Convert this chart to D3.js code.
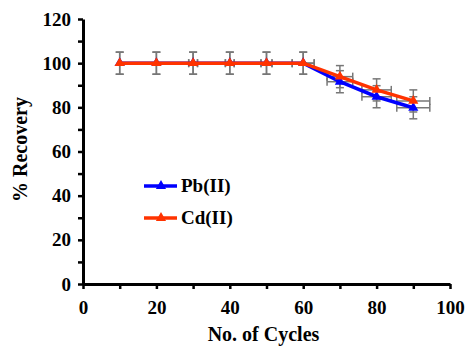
<!DOCTYPE html>
<html>
<head>
<meta charset="utf-8">
<script src="https://cdn.jsdelivr.net/npm/d3@7"></script>
<style>
  body { margin: 0; background: #fff; }
</style>
</head>
<body>
<svg id="chart" width="465" height="346"></svg>
<script>
// chart data
const cycles = [10, 20, 30, 40, 50, 60, 70, 80, 90];
const pbValues = [100, 100, 100, 100, 100, 100, 91.6, 84.8, 79.8];
const cdValues = [100, 100, 100, 100, 100, 100, 93.9, 87.9, 82.9];
const yErr = [5, 5, 5, 5, 5, 5, 5, 5, 5];
const xErr = [0, 0, 1.2, 1.2, 1.5, 3, 3.5, 4, 4.5];
const xTicks = [0, 20, 40, 60, 80, 100];
const yTicks = [0, 20, 40, 60, 80, 100, 120];

const FONT = "'Liberation Serif', 'Times New Roman', 'DejaVu Serif', serif";

const margin = { top: 19, right: 15, bottom: 62, left: 83 };
const width = 465 - margin.left - margin.right;
const height = 346 - margin.top - margin.bottom;

const svg = d3.select("#chart")
    .append("g")
    .attr("transform", "translate(" + margin.left + "," + margin.top + ")");

const xScale = d3.scaleLinear().domain([0, 100]).range([0, width]);
const yScale = d3.scaleLinear().domain([0, 120]).range([height, 0]);

// axes: major labels every 20, tick marks every 10
const xAxis = svg.append("g")
    .attr("transform", "translate(0," + height + ")")
    .call(d3.axisBottom(xScale).tickValues(d3.range(0, 101, 10)).tickSize(5).tickSizeOuter(0)
        .tickFormat(d => xTicks.includes(d) ? d : ""));
const yAxis = svg.append("g")
    .call(d3.axisLeft(yScale).tickValues(d3.range(0, 121, 10)).tickSize(5).tickSizeOuter(0)
        .tickFormat(d => yTicks.includes(d) ? d : ""));

[xAxis, yAxis].forEach(a => {
    a.attr("font-family", FONT).attr("font-size", 19).attr("font-weight", "bold");
    a.select(".domain").attr("stroke", "#000").attr("stroke-width", 3);
    a.selectAll(".tick line").attr("stroke", "#000").attr("stroke-width", 2.5);
    a.selectAll(".tick text").attr("fill", "#000");
});
xAxis.selectAll(".tick text").attr("dy", "1.15em");
yAxis.selectAll(".tick text").attr("x", -12);

// error bars (drawn under the lines)
const errColor = "#777";
const series = [
    { name: "Pb(II)", values: pbValues, color: "#0000ff" },
    { name: "Cd(II)", values: cdValues, color: "#ff3300" }
];
const capY = 4, capX = 4;
series.forEach(s => {
    const g = svg.append("g");
    cycles.forEach((c, i) => {
        const cx = xScale(c), cy = yScale(s.values[i]);
        const y0 = yScale(s.values[i] - yErr[i]), y1 = yScale(s.values[i] + yErr[i]);
        g.append("line").attr("x1", cx).attr("x2", cx).attr("y1", y0).attr("y2", y1);
        g.append("line").attr("x1", cx - capY).attr("x2", cx + capY).attr("y1", y0).attr("y2", y0);
        g.append("line").attr("x1", cx - capY).attr("x2", cx + capY).attr("y1", y1).attr("y2", y1);
        if (xErr[i] > 0) {
            const x0 = xScale(c - xErr[i]), x1 = xScale(c + xErr[i]);
            g.append("line").attr("x1", x0).attr("x2", x1).attr("y1", cy).attr("y2", cy);
            g.append("line").attr("x1", x0).attr("x2", x0).attr("y1", cy - capX).attr("y2", cy + capX);
            g.append("line").attr("x1", x1).attr("x2", x1).attr("y1", cy - capX).attr("y2", cy + capX);
        }
    });
    g.selectAll("line").attr("stroke", errColor).attr("stroke-width", 1.5);
});

// lines + triangle markers
const line = d3.line().x((d, i) => xScale(cycles[i])).y(d => yScale(d));
const tri = d3.symbol().type(d3.symbolTriangle).size(45);
series.forEach(s => {
    svg.append("path").datum(s.values)
        .attr("d", line)
        .attr("fill", "none")
        .attr("stroke", s.color)
        .attr("stroke-width", 3.5);
    svg.selectAll(null).data(s.values).enter().append("path")
        .attr("d", tri)
        .attr("transform", (d, i) => "translate(" + xScale(cycles[i]) + "," + yScale(d) + ")")
        .attr("fill", s.color);
});

// legend
const legend = svg.append("g").attr("transform", "translate(61,167)");
series.forEach((s, i) => {
    const row = legend.append("g").attr("transform", "translate(0," + i * 32 + ")");
    row.append("line").attr("x1", 0).attr("x2", 33).attr("y1", 0).attr("y2", 0)
        .attr("stroke", s.color).attr("stroke-width", 3.5);
    row.append("path").attr("d", tri).attr("transform", "translate(17,0)").attr("fill", s.color);
    row.append("text").attr("x", 37).attr("y", 6)
        .attr("font-family", FONT).attr("font-weight", "bold").attr("font-size", 19)
        .text(s.name);
});

// axis titles
svg.append("text")
    .attr("x", width / 2 - 3)
    .attr("y", height + 57)
    .attr("text-anchor", "middle")
    .attr("font-family", FONT).attr("font-weight", "bold").attr("font-size", 20)
    .text("No. of Cycles");
svg.append("text")
    .attr("transform", "translate(-56," + (yScale(60) - 2) + ") rotate(-90)")
    .attr("text-anchor", "middle")
    .attr("font-family", FONT).attr("font-weight", "bold").attr("font-size", 20)
    .text("% Recovery");
</script>
</body>
</html>
